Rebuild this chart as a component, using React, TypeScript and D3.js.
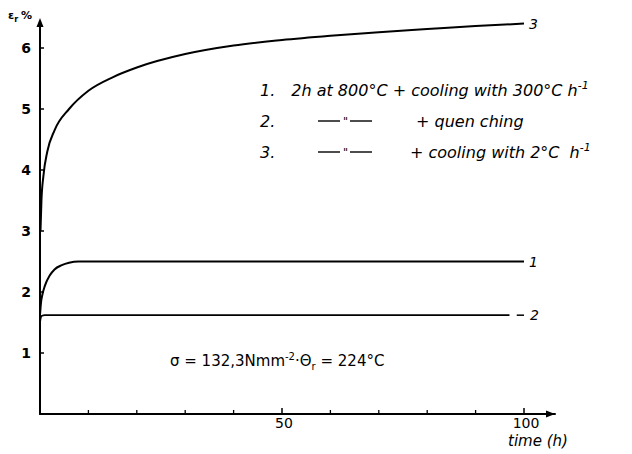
import React from "react";
import * as d3 from "d3";

// Creep strain (%) versus time (h) for three heat treatments
const curve1T = [0, 0.2, 0.5, 1, 2, 3, 4.5, 6, 8, 12, 30, 60, 100];
const curve1V = [1.62, 1.82, 1.96, 2.1, 2.27, 2.37, 2.44, 2.48, 2.5, 2.5, 2.5, 2.5, 2.5];

const curve2T = [0, 0.15, 0.4, 1, 10, 50, 97];
const curve2V = [1.5, 1.58, 1.61, 1.62, 1.62, 1.62, 1.62];

const curve3T = [0.1, 0.3, 0.7, 1.5, 3, 6, 10, 15, 20, 30, 40, 50, 60, 70, 80, 90, 100];
const curve3V = [3.0, 3.5, 3.9, 4.3, 4.65, 5.0, 5.3, 5.52, 5.68, 5.9, 6.04, 6.13, 6.2, 6.26, 6.31, 6.36, 6.4];

const yTicks = [1, 2, 3, 4, 5, 6];
const xMinorTicks = [10, 20, 30, 40, 60, 70, 80, 90];
const xMajorTicks = [50, 100];

const x = d3.scaleLinear().domain([0, 100]).range([40, 524]);
const y = d3.scaleLinear().domain([0, 6]).range([414, 48]);

const line = d3
  .line<[number, number]>()
  .x((d) => x(d[0]))
  .y((d) => y(d[1]))
  .curve(d3.curveMonotoneX);

const zip = (t: number[], v: number[]) => t.map((ti, i) => [ti, v[i]] as [number, number]);

const font = "'DejaVu Sans', 'Liberation Sans', sans-serif";

// ditto mark "——"——" used in the legend rows 2 and 3
function Ditto({ x0, yy }: { x0: number; yy: number }) {
  return (
    <g>
      <line x1={x0} x2={x0 + 22} y1={yy} y2={yy} stroke="#000" strokeWidth={1.4} />
      <text x={x0 + 25} y={yy + 4} fontSize={11} fontFamily={font}>"</text>
      <line x1={x0 + 32} x2={x0 + 54} y1={yy} y2={yy} stroke="#000" strokeWidth={1.4} />
    </g>
  );
}

export default function App() {
  return (
    <svg width={632} height={454} style={{ position: "absolute", left: 0, top: 0, background: "#fff" }}>
      <g fill="none" stroke="#000" strokeLinecap="round">
        {/* axes */}
        <line x1={x(0)} y1={y(0)} x2={555} y2={y(0)} strokeWidth={2} />
        <line x1={x(0)} y1={y(0)} x2={x(0)} y2={22} strokeWidth={2} />
      </g>
      <path d={`M555,${y(0)} l-9,-3.5 l0,7 z`} fill="#000" />
      <path d={`M${x(0)},18 l-3.5,9 l7,0 z`} fill="#000" />

      {yTicks.map((t) => (
        <g key={t}>
          <line x1={x(0)} x2={x(0) + 4} y1={y(t)} y2={y(t)} stroke="#000" strokeWidth={1.5} />
          <text x={31} y={y(t) + 5} textAnchor="end" fontSize={14} fontFamily={font} fontWeight="bold">
            {t}
          </text>
        </g>
      ))}

      {xMinorTicks.map((t) => (
        <line key={t} x1={x(t)} x2={x(t)} y1={y(0)} y2={y(0) - 4} stroke="#000" strokeWidth={1.3} />
      ))}
      {xMajorTicks.map((t) => (
        <g key={t}>
          <line x1={x(t)} x2={x(t)} y1={y(0)} y2={y(0) - 6} stroke="#000" strokeWidth={1.5} />
          <text x={x(t) + 2} y={y(0) + 14} textAnchor="middle" fontSize={14} fontFamily={font}>
            {t}
          </text>
        </g>
      ))}

      <text x={508} y={446} fontSize={15} fontStyle="italic" fontFamily={font}>
        time (h)
      </text>

      <text x={8} y={19} fontSize={11} fontFamily={font} fontWeight="bold">
        ε
        <tspan fontSize={8} dy={3}>r</tspan>
        <tspan dy={-3} dx={3}>%</tspan>
      </text>

      {/* curves */}
      <path d={line(zip(curve3T, curve3V)) ?? ""} fill="none" stroke="#000" strokeWidth={2} />
      <path d={line(zip(curve1T, curve1V)) ?? ""} fill="none" stroke="#000" strokeWidth={2} />
      <path d={line(zip(curve2T, curve2V)) ?? ""} fill="none" stroke="#000" strokeWidth={1.8} />
      <line x1={x(98.5)} x2={x(100)} y1={y(1.62)} y2={y(1.62)} stroke="#000" strokeWidth={1.5} />

      {/* curve labels */}
      <g fontSize={14} fontStyle="italic" fontFamily={font}>
        <text x={529} y={29}>3</text>
        <text x={529} y={y(2.5) + 5}>1</text>
        <text x={530} y={y(1.62) + 5}>2</text>
      </g>

      {/* legend */}
      <g fontSize={16} fontStyle="italic" fontFamily={font}>
        <text x={260} y={96}>
          1.
          <tspan dx={16}>2h at 800°C + cooling with 300°C h</tspan>
          <tspan dy={-7} fontSize={11}>-1</tspan>
        </text>
        <text x={260} y={127}>2.</text>
        <text x={416} y={127}>+ quen ching</text>
        <text x={260} y={158}>3.</text>
        <text x={410} y={158}>
          + cooling with 2°C
          <tspan dx={10}>h</tspan>
          <tspan dy={-7} fontSize={11}>-1</tspan>
        </text>
      </g>
      <Ditto x0={318} yy={121} />
      <Ditto x0={318} yy={152} />

      {/* test conditions */}
      <text x={170} y={366} fontSize={15} fontFamily={font}>
        σ = 132,3Nmm
        <tspan dy={-6} fontSize={10}>-2</tspan>
        <tspan dy={6}>·Θ</tspan>
        <tspan dy={4} fontSize={10}>r</tspan>
        <tspan dy={-4}> = 224°C</tspan>
      </text>
    </svg>
  );
}
